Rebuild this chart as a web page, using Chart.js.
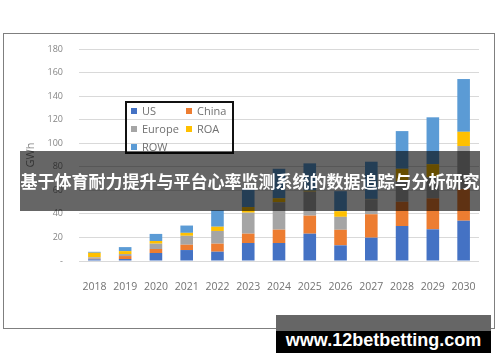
<!DOCTYPE html>
<html>
<head>
<meta charset="utf-8">
<script src="https://cdn.jsdelivr.net/npm/chart.js@4.4.1/dist/chart.umd.min.js"></script>
<style>
    body { margin: 0; background: #fff; }
    #wrap { position: relative; width: 500px; height: 362px; overflow: hidden; }
    .frame { position: absolute; left: 3px; top: 33px; width: 490px; height: 294px; border: 1px solid #7f7f7f; }
    #chart { position: absolute; left: 0; top: 0; }
    #legend { position: absolute; left: 125px; top: 101px; width: 109px; height: 53px; box-sizing: border-box;
              border: 2px solid #111; font-family: 'Open Sans', sans-serif; font-size: 11px; color: #707070; }
    #legend .item { position: absolute; height: 14px; line-height: 14px; white-space: nowrap; }
    #legend .sw { display: inline-block; width: 6px; height: 6px; margin-right: 5px; vertical-align: 1px; }
    .banner { position: absolute; left: 20px; top: 151px; width: 460px; height: 60px; background: rgba(0, 0, 0, 0.6);
              color: #fff; font-family: 'Noto Sans CJK SC', sans-serif; font-weight: bold; font-size: 17px;
              line-height: 60px; text-align: center; white-space: nowrap; }
    .wm { position: absolute; left: 276px; top: 315px; width: 215px; height: 38px; background: #000; }
    .wm .top { position: absolute; left: 0; top: 0; width: 100%; height: 16px; background: #666; }
    .wm span { position: absolute; left: 0; width: 100%; top: 13px; text-align: center; color: #fff;
               font-family: 'Liberation Sans', Arial, sans-serif; font-weight: bold; font-size: 18px; line-height: 24px; }
</style>
</head>
<body>
<div id="wrap">
    <div class="frame"></div>
    <canvas id="chart" width="500" height="362"></canvas>
    <div id="legend"></div>
    <div class="banner">基于体育耐力提升与平台心率监测系统的数据追踪与分析研究</div>
    <div class="wm"><div class="top"></div><span>www.12betbetting.com</span></div>
</div>
<script>
// Данные графика (GWh по регионам)
const years = ['2018', '2019', '2020', '2021', '2022', '2023', '2024', '2025', '2026', '2027', '2028', '2029', '2030'];
const usValues = [1.4, 1.7, 6.8, 9.3, 7.9, 15.3, 15.3, 23.2, 13.3, 19.8, 29.7, 26.9, 34.2];
const chinaValues = [0.5, 2.5, 3.4, 4.5, 6.8, 7.9, 11.3, 15.3, 13.2, 19.9, 20.6, 26.3, 26.9];
const europeValues = [1.2, 1.7, 4.5, 7.6, 10.8, 17.8, 23.3, 20.4, 11.0, 12.7, 17.5, 17.8, 36.5];
const roaValues = [3.9, 2.5, 2.3, 2.5, 3.6, 4.8, 3.4, 0.8, 4.8, 0.3, 10.5, 11.2, 12.1];
const rowValues = [0.8, 3.4, 6.0, 6.2, 14.0, 16.0, 25.0, 23.2, 17.0, 31.6, 32.0, 39.8, 44.8];
const seriesNames = ['US', 'China', 'Europe', 'ROA', 'ROW'];
const seriesColors = ['#4472C4', '#ED7D31', '#A5A5A5', '#FFC000', '#5B9BD5'];
const yTicks = [0, 20, 40, 60, 80, 100, 120, 140, 160, 180];

const allValues = [usValues, chinaValues, europeValues, roaValues, rowValues];

const datasets = seriesNames.map((name, i) => ({
    label: name,
    data: allValues[i],
    backgroundColor: seriesColors[i],
    borderWidth: 0,
    barPercentage: 0.41,
    categoryPercentage: 1
}));

// Легенда в рамке (как в оригинале)
const legend = document.getElementById('legend');
seriesNames.forEach((name, i) => {
    const col = i % 2, row = Math.floor(i / 2);
    const item = document.createElement('div');
    item.className = 'item';
    item.style.left = (4 + col * 55) + 'px';
    item.style.top = (1 + row * 18) + 'px';
    item.innerHTML = `<span class="sw" style="background:${seriesColors[i]}"></span>${name}`;
    legend.appendChild(item);
});

const ctx = document.getElementById('chart').getContext('2d');
new Chart(ctx, {
    type: 'bar',
    data: { labels: years, datasets: datasets },
    options: {
        responsive: false,
        animation: false,
        devicePixelRatio: 1,
        layout: { padding: { left: 20, right: 21, top: 49, bottom: 0 } },
        plugins: { legend: { display: false }, tooltip: { enabled: false } },
        scales: {
            x: {
                stacked: true,
                grid: { display: false },
                border: { display: false },
                ticks: { color: '#737373', font: { family: 'Open Sans', size: 10.5 }, padding: 12, maxRotation: 0 },
                afterFit: (scale) => { scale.height = 101; }
            },
            y: {
                stacked: true,
                min: 0,
                max: 180,
                afterBuildTicks: (scale) => { scale.ticks = yTicks.map(v => ({ value: v })); },
                grid: { color: '#d9d9d9', lineWidth: 1, drawTicks: false },
                border: { display: false },
                ticks: {
                    color: '#858585',
                    font: { family: 'Open Sans', size: 9 },
                    padding: 16,
                    callback: (v) => v === 0 ? '-' : v
                },
                title: {
                    display: true,
                    text: 'GWh',
                    color: '#858585',
                    font: { family: 'Open Sans', size: 11 },
                    padding: { top: 4, bottom: 0 }
                },
                afterFit: (scale) => { scale.width = 59; }
            }
        }
    }
});
</script>
</body>
</html>
